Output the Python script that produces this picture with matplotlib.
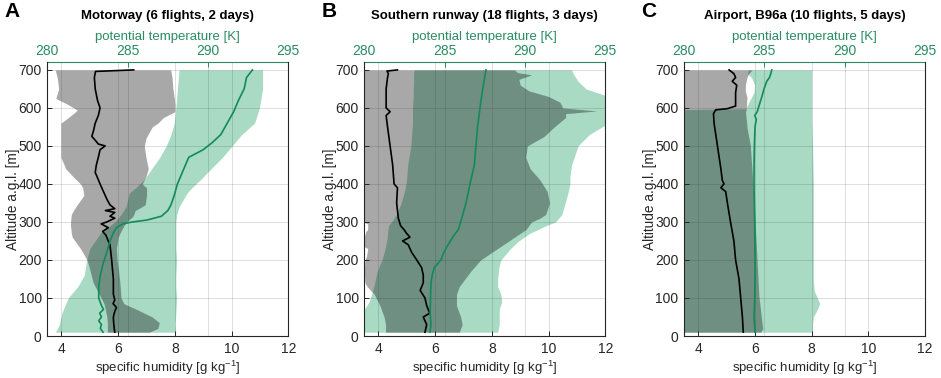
import matplotlib
matplotlib.use('Agg')
import matplotlib.pyplot as plt

plt.rcParams['font.family'] = ['Liberation Sans', 'DejaVu Sans']
plt.rcParams['mathtext.fontset'] = 'custom'
plt.rcParams['mathtext.rm'] = 'Liberation Sans'
plt.rcParams['mathtext.it'] = 'Liberation Sans:italic'
plt.rcParams['mathtext.bf'] = 'Liberation Sans:bold'

# ---------------- data ----------------
titles = ['Motorway (6 flights, 2 days)',
          'Southern runway (18 flights, 3 days)',
          'Airport, B96a (10 flights, 5 days)']
letters = ['A', 'B', 'C']
q_ticks = [4, 6, 8, 10, 12]
th_ticks = [280, 285, 290, 295]
z_ticks = [0, 100, 200, 300, 400, 500, 600, 700]

# Panel A - specific humidity range (g/kg)
A_qz = [10, 20, 35, 50, 70, 85, 100, 140, 180, 200, 230, 260, 270, 290, 300, 315, 320, 330,
        345, 370, 390, 400, 420, 440, 470, 500, 520, 550, 560, 575, 590, 595, 610, 625, 650, 680, 700]
A_qlo = [5.62, 5.62, 5.62, 5.60, 5.55, 5.50, 5.40, 5.12, 4.98, 4.90, 4.67, 4.38, 4.35, 4.32, 4.32, 4.34, 4.35, 4.42,
         4.55, 4.79, 4.75, 4.67, 4.40, 4.15, 3.98, 3.98, 3.98, 3.98, 3.98, 4.25, 4.50, 4.55, 4.20, 3.80, 3.90, 3.85, 3.78]
A_qhi = [7.10, 7.40, 7.45, 7.20, 6.65, 6.20, 6.10, 6.06, 6.00, 5.96, 5.94, 6.00, 6.06, 6.20, 6.30, 6.52, 6.55, 6.60,
         6.95, 7.00, 7.00, 6.85, 6.98, 7.06, 6.98, 6.92, 6.98, 7.20, 7.40, 7.60, 8.00, 8.00, 8.00, 7.98, 7.93, 7.90, 7.85]
# Panel A - potential temperature range (K)
A_tz = [10, 30, 60, 100, 130, 160, 200, 230, 270, 300, 320, 340, 376, 390, 410, 440, 470, 500, 530, 560, 600, 650, 700]
A_tlo = [280.5, 280.75, 280.9, 281.3, 281.9, 282.3, 282.45, 282.65, 283.3, 284.2, 284.6, 284.9, 285.1, 285.5,
         286.0, 286.5, 287.0, 287.4, 287.7, 287.9, 288.0, 288.1, 288.2]
A_thi = [288.0, 287.95, 288.0, 288.05, 288.0, 288.0, 288.05, 288.0, 288.0, 288.0, 288.06, 288.2, 288.7, 289.0,
         289.5, 290.2, 290.9, 291.5, 292.1, 292.9, 293.2, 293.4, 293.4]
# Panel A - mean profiles
A_qmz = [10, 20, 35, 50, 65, 75, 85, 95, 110, 150, 200, 240, 250, 265, 275, 285, 295, 300, 310, 315,
         325, 330, 335, 345, 360, 380, 400, 420, 430, 450, 470, 490, 500, 505, 515, 525, 540, 560,
         580, 600, 620, 650, 680, 696, 700]
A_qm = [5.88, 5.86, 5.84, 5.83, 5.88, 5.94, 5.82, 5.88, 5.83, 5.83, 5.77, 5.71, 5.65, 5.57, 5.45, 5.65, 5.40,
        5.60, 5.88, 5.71, 5.88, 5.55, 5.88, 5.71, 5.60, 5.48, 5.36, 5.25, 5.19, 5.23, 5.30, 5.36, 5.54, 5.30,
        5.19, 5.07, 5.13, 5.19, 5.30, 5.36, 5.27, 5.19, 5.16, 5.20, 6.55]
A_tmz = [10, 20, 30, 40, 50, 60, 70, 80, 100, 130, 160, 190, 220, 250, 270, 285, 295, 300, 305, 315,
         330, 345, 370, 400, 420, 450, 470, 490, 510, 530, 560, 590, 620, 650, 680, 700]
A_tm = [283.47, 283.3, 283.37, 283.2, 283.37, 283.26, 283.5, 283.37, 283.2, 283.2, 283.3, 283.47, 283.7,
        283.9, 284.1, 284.3, 284.7, 285.3, 286.2, 287.1, 287.5, 287.7, 287.9, 288.1, 288.3, 288.6, 288.8,
        289.7, 290.3, 290.8, 291.2, 291.6, 291.9, 292.25, 292.4, 292.77]

# Panel B
B_qz = [10, 30, 50, 80, 110, 130, 140, 170, 200, 210, 230, 235, 260, 275, 280, 295, 300, 310, 320, 350, 380,
        410, 440, 470, 500, 525, 550, 575, 585, 592, 600, 615, 630, 645, 660, 675, 687, 693, 700]
B_qlo = [4.25, 4.25, 4.20, 4.05, 3.85, 3.60, 3.52, 3.50, 3.52, 3.58, 3.62, 3.50, 3.50, 3.55, 3.62, 3.62, 3.45,
         3.50, 3.40, 3.40, 3.40, 3.40, 3.40, 3.40, 3.40, 3.40, 3.40, 3.40, 3.40, 3.40, 3.40, 3.40, 3.40, 3.40,
         3.40, 3.40, 3.40, 3.40, 3.40]
B_qhi = [6.85, 6.95, 6.90, 6.75, 6.75, 6.85, 6.95, 7.25, 7.60, 7.80, 8.20, 8.30, 8.80, 9.10, 9.20, 9.35, 9.40,
         9.70, 9.90, 10.03, 9.95, 9.70, 9.35, 9.19, 9.25, 9.84, 10.20, 10.60, 10.60, 11.70, 10.50, 10.40, 10.00,
         9.30, 9.00, 8.95, 9.40, 8.90, 8.80]
B_tz = [10, 30, 50, 70, 90, 110, 130, 150, 170, 185, 200, 230, 250, 270, 290, 300, 320, 350, 380, 400, 420,
        450, 500, 530, 560, 600, 630, 650, 670, 690, 700]
B_tlo = [279.9, 279.9, 279.9, 280.0, 280.3, 280.45, 280.6, 280.7, 280.8, 280.95, 281.1, 281.3, 281.4, 281.45,
         281.5, 281.7, 282.0, 282.3, 282.5, 282.6, 282.65, 282.7, 282.9, 282.95, 283.0, 283.0, 283.05, 283.05,
         283.07, 283.07, 283.1]
B_thi = [288.3, 288.4, 288.4, 288.4, 288.55, 288.5, 288.3, 288.3, 288.35, 288.4, 288.5, 289.1, 289.6, 290.3,
         291.3, 291.9, 292.3, 292.5, 292.7, 292.8, 292.8, 292.9, 293.3, 294.0, 295.2, 295.2, 295.2, 293.8,
         293.3, 293.0, 292.9]
B_qmz = [10, 30, 50, 60, 80, 100, 120, 140, 160, 180, 200, 220, 230, 240, 250, 260, 270, 280, 290, 300, 310,
         350, 390, 400, 450, 500, 550, 580, 590, 600, 650, 680, 690, 697, 700]
B_qm = [5.64, 5.70, 5.58, 5.81, 5.70, 5.64, 5.47, 5.58, 5.58, 5.52, 5.35, 5.17, 5.11, 5.05, 4.85, 5.11, 4.99,
        4.90, 4.78, 4.74, 4.70, 4.64, 4.67, 4.55, 4.50, 4.41, 4.32, 4.27, 4.41, 4.27, 4.27, 4.32, 4.35, 4.30, 4.67]
B_tmz = [10, 30, 60, 100, 140, 165, 180, 200, 220, 230, 260, 280, 300, 350, 400, 450, 500, 550, 600, 650, 700]
B_tm = [284.09, 284.15, 284.1, 284.12, 284.15, 284.25, 284.36, 284.77, 284.95, 285.08, 285.5, 285.85, 286.0,
        286.33, 286.58, 286.85, 286.95, 287.05, 287.2, 287.37, 287.57]

# Panel C
C_qz = [10, 20, 36, 106, 194, 282, 370, 457, 501, 545, 589, 598, 603, 628, 645, 663, 680, 690, 700]
C_qlo = [3.40] * 19
C_qhi = [6.20, 6.28, 6.25, 6.14, 6.08, 6.02, 5.96, 5.88, 5.84, 5.73, 5.67, 5.70, 5.70, 5.72, 5.66, 5.67, 5.72,
         5.78, 5.90]
C_tz = [10, 30, 50, 70, 85, 100, 120, 150, 200, 300, 400, 500, 560, 595, 598, 603, 620, 640, 660, 680, 690, 700]
C_tlo = [279.5, 279.5, 279.5, 279.5, 279.5, 279.5, 279.5, 279.5, 279.5, 279.5, 279.5, 279.5, 279.5, 279.5,
         283.9, 283.9, 284.1, 284.35, 284.4, 284.2, 283.95, 284.0]
C_thi = [288.0, 288.0, 288.05, 288.3, 288.45, 288.3, 288.1, 288.05, 288.05, 288.05, 288.05, 288.0, 287.95,
         287.95, 287.95, 287.95, 287.95, 287.95, 287.95, 287.95, 287.95, 287.95]
C_qmz = [10, 50, 100, 150, 200, 250, 300, 350, 380, 390, 400, 410, 440, 470, 500, 530, 560, 585, 595, 598,
         605, 620, 640, 660, 670, 680, 690, 700]
C_qm = [5.59, 5.56, 5.50, 5.44, 5.32, 5.26, 5.14, 5.03, 4.97, 4.80, 4.91, 4.85, 4.80, 4.74, 4.68, 4.62, 4.56,
        4.54, 4.62, 5.03, 5.32, 5.32, 5.32, 5.36, 5.20, 5.32, 5.26, 5.09]
C_tmz = [10, 50, 100, 150, 200, 300, 400, 450, 500, 550, 570, 580, 590, 610, 630, 650, 670, 680, 690, 700]
C_tm = [284.42, 284.36, 284.4, 284.42, 284.42, 284.4, 284.36, 284.36, 284.38, 284.42, 284.5, 284.4, 284.56,
        284.7, 284.85, 284.98, 285.15, 285.32, 285.4, 285.46]

panels = [
    dict(qz=A_qz, qlo=A_qlo, qhi=A_qhi, tz=A_tz, tlo=A_tlo, thi=A_thi, qmz=A_qmz, qm=A_qm, tmz=A_tmz, tm=A_tm),
    dict(qz=B_qz, qlo=B_qlo, qhi=B_qhi, tz=B_tz, tlo=B_tlo, thi=B_thi, qmz=B_qmz, qm=B_qm, tmz=B_tmz, tm=B_tm),
    dict(qz=C_qz, qlo=C_qlo, qhi=C_qhi, tz=C_tz, tlo=C_tlo, thi=C_thi, qmz=C_qmz, qm=C_qm, tmz=C_tmz, tm=C_tm),
]

# ---------------- style ----------------
GREEN_FILL = '#a8dac4'
GREEN_LINE = '#138a5a'
GREEN_TXT = '#2a8c62'
AX_COL = '#262626'
GRID_COL = '#262626'

fig = plt.figure(figsize=(9.41, 3.78), dpi=100)
lefts = [47.3 / 941, 364.3 / 941, 684.0 / 941]
W = 241.0 / 941
B = 42.0 / 378
H = (336.0 - 62.3) / 378

for i, p in enumerate(panels):
    ax = fig.add_axes([lefts[i], B, W, H])
    axt = ax.twiny()
    ax.set_zorder(axt.get_zorder() + 1)
    ax.patch.set_visible(False)
    axt.patch.set_visible(True)
    axt.patch.set_facecolor('white')

    axt.fill_betweenx(p['tz'], p['tlo'], p['thi'], color=GREEN_FILL, lw=0, zorder=1)
    ax.fill_betweenx(p['qz'], p['qlo'], p['qhi'], color='black', alpha=0.34, lw=0, zorder=1)
    ax.plot(p['qm'], p['qmz'], color='black', lw=1.2, zorder=4)
    ax.plot(p['tm'], p['tmz'], color=GREEN_LINE, lw=1.2, zorder=4, transform=axt.transData)

    ax.set_xlim(3.5, 12)
    ax.set_ylim(0, 720)
    axt.set_xlim(280, 295)
    ax.set_xticks(q_ticks)
    ax.set_yticks(z_ticks)
    axt.set_xticks(th_ticks)

    ax.set_axisbelow(False)
    axt.set_axisbelow(False)
    ax.grid(True, color=GRID_COL, alpha=0.15, lw=0.7, zorder=2.5)
    axt.grid(True, axis='x', color=GRID_COL, alpha=0.15, lw=0.7)

    ax.tick_params(direction='in', length=3.5, width=0.7, colors=AX_COL, labelsize=10, pad=4)
    axt.tick_params(axis='x', direction='in', length=3.5, width=0.7, colors=GREEN_TXT, labelsize=10, pad=3)

    ax.spines['top'].set_visible(False)
    for s in ['left', 'right', 'bottom']:
        ax.spines[s].set_color(AX_COL)
        ax.spines[s].set_linewidth(0.8)
        axt.spines[s].set_visible(False)
    axt.spines['top'].set_color(GREEN_TXT)
    axt.spines['top'].set_linewidth(0.8)

    ax.set_xlabel(r'specific humidity [g kg$^{-1}$]', fontsize=9.5, color=AX_COL, labelpad=2)
    ax.set_ylabel('Altitude a.g.l. [m]', fontsize=9.8, color=AX_COL, va='center')
    ax.yaxis.set_label_coords(-34.0 / 241, 0.5)
    axt.set_xlabel('potential temperature [K]', fontsize=9.5, color=GREEN_TXT, labelpad=3)

    cx = lefts[i] + W / 2
    fig.text(cx, 1 - 16.5 / 378, titles[i], ha='center', va='center', fontsize=9.5,
             fontweight='bold', color='black')

letter_x = [12.5, 329, 649]
for lx, L in zip(letter_x, letters):
    fig.text(lx / 941, 1 - 11.5 / 378, L, ha='center', va='center', fontsize=15,
             fontweight='bold', color='black')

fig.savefig('out.png', dpi=100)
